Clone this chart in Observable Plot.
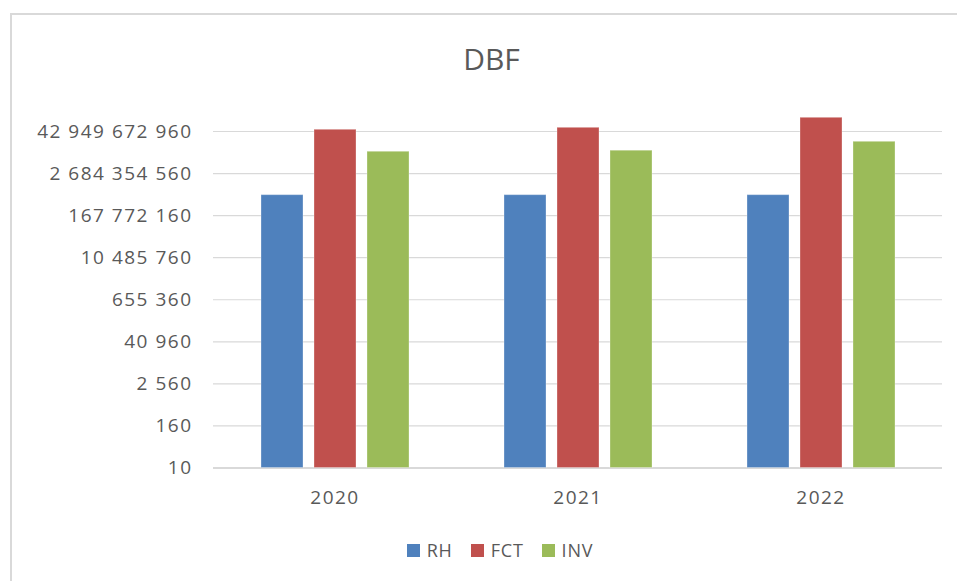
<!DOCTYPE html>
<html>
<head>
<meta charset="utf-8">
<script src="https://cdn.jsdelivr.net/npm/d3@7"></script>
<script src="https://cdn.jsdelivr.net/npm/@observablehq/plot@0.6"></script>
<style>
  html, body { margin: 0; padding: 0; background: #fff; }
  #wrap { position: relative; width: 957px; height: 581px; overflow: hidden; font-family: "Open Sans", sans-serif; color: #595959; }
  #frame { position: absolute; left: 10px; top: 13px; width: 1000px; height: 1000px; border-left: 2px solid #d9d9d9; border-top: 2px solid #d9d9d9; }
  #title { position: absolute; left: 0; width: 983px; top: 38px; text-align: center; font-size: 30px; color: #595959; }
  #chart { position: absolute; left: 0; top: 90px; }
  #legend { position: absolute; top: 538px; left: 0; width: 1000px; display: flex; justify-content: center; gap: 0; font-size: 18px; color: #595959; }
  .item { display: flex; align-items: center; margin: 0 9px; letter-spacing: 0.8px; }
  .sw { width: 13px; height: 13px; margin-right: 7px; }
</style>
</head>
<body>
<div id="wrap">
  <div id="frame"></div>
  <div id="title">DBF</div>
  <div id="chart"></div>
  <div id="legend"></div>
</div>
<script>
const years = ["2020", "2021", "2022"];
const series = ["RH", "FCT", "INV"];
const rh  = [6.46e8, 6.46e8, 6.46e8];
const fct = [4.81e10, 5.48e10, 1.06e11];
const inv = [1.13e10, 1.21e10, 2.18e10];
const yTicks = [10, 160, 2560, 40960, 655360, 10485760, 167772160, 2684354560, 42949672960];
const colors = ["#4F81BD", "#C0504D", "#9BBB59"];

const values = {RH: rh, FCT: fct, INV: inv};
const data = [];
years.forEach((yr, i) => series.forEach(s => data.push({year: yr, series: s, value: values[s][i]})));
const yMin = yTicks[0];
const fmt = d => d3.format(",")(d).replace(/,/g, " ");

const plot = Plot.plot({
  width: 957,
  height: 430,
  marginLeft: 213,
  marginRight: 15,
  marginTop: 20,
  marginBottom: 52.5,
  style: {fontFamily: "'Open Sans', sans-serif", fontSize: "19px", color: "#595959", background: "transparent", overflow: "visible", letterSpacing: "1.5px"},
  fx: {domain: years, paddingInner: 0, paddingOuter: 0, label: null},
  x: {domain: series, paddingInner: 0.21, paddingOuter: 0.897, axis: null},
  y: {type: "log", domain: [yTicks[0], yTicks[yTicks.length - 1]], range: [377.5, 41], axis: null, label: null},
  color: {domain: series, range: colors},
  marks: [
    Plot.gridY(yTicks, {stroke: "#d9d9d9", strokeOpacity: 1, strokeWidth: 1.2}),
    Plot.ruleY([yMin], {stroke: "#d9d9d9", strokeWidth: 2}),
    Plot.barY(data, {fx: "year", x: "series", y1: () => yMin, y2: "value", fill: "series", stroke: "white", strokeOpacity: 0.3, strokeWidth: 1, inset: 0}),
    Plot.text(yTicks, {fx: () => years[0], y: d => d, text: fmt, frameAnchor: "left", textAnchor: "end", dx: -21, fill: "#595959", fontSize: 19}),
    Plot.axisFx({anchor: "bottom", tickSize: 0, tickPadding: 22, fontSize: 19, label: null})
  ]
});
document.getElementById("chart").appendChild(plot);

const legend = document.getElementById("legend");
series.forEach((s, i) => {
  const it = document.createElement("div");
  it.className = "item";
  const sw = document.createElement("div");
  sw.className = "sw";
  sw.style.background = colors[i];
  it.appendChild(sw);
  const t = document.createElement("span");
  t.textContent = s;
  it.appendChild(t);
  legend.appendChild(it);
});
</script>
</body>
</html>
